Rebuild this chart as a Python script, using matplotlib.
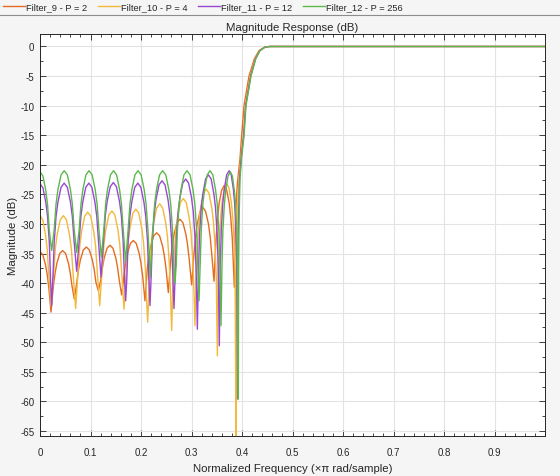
import matplotlib
matplotlib.use("Agg")
import matplotlib.pyplot as plt
from matplotlib.lines import Line2D
from matplotlib.ticker import MultipleLocator, FixedLocator

plt.rcParams['font.family'] = ['Liberation Sans', 'DejaVu Sans']
plt.rcParams['axes.unicode_minus'] = False

# ---------------- data ----------------
labels = ["Filter_9 - P = 2", "Filter_10 - P = 4", "Filter_11 - P = 12", "Filter_12 - P = 256"]
colors = ["#e56c22", "#f2b93a", "#9a47d6", "#5cb84c"]

freq_f9 = [0.0000,0.0055,0.0109,0.0142,0.0174,0.0218,
           0.0264,0.0299,0.0333,0.0391,0.0449,0.0507,0.0565,0.0599,0.0634,0.0680,
           0.0728,0.0763,0.0799,0.0858,0.0918,0.0978,0.1037,0.1073,0.1108,0.1155,
           0.1201,0.1236,0.1270,0.1328,0.1386,0.1444,0.1502,0.1536,0.1571,0.1617,
           0.1663,0.1698,0.1732,0.1790,0.1848,0.1906,0.1964,0.1998,0.2033,0.2079,
           0.2125,0.2160,0.2194,0.2252,0.2310,0.2368,0.2426,0.2460,0.2495,0.2541,
           0.2587,0.2622,0.2656,0.2714,0.2772,0.2830,0.2888,0.2922,0.2957,0.3003,
           0.3048,0.3081,0.3114,0.3170,0.3225,0.3280,0.3336,0.3369,0.3402,0.3446,
           0.3486,0.3516,0.3547,0.3597,0.3647,0.3697,0.3747,0.3778,0.3808,0.3848,
           0.3862,0.3881,0.3910,0.3960,0.3993,0.4040,0.4139,0.4244,0.4337,0.4455,0.4550,
           0.5,0.6,0.7,0.8,0.9,1.0]
mag_f9 = [-34.7,-35.2,-36.9,-38.5,-40.7,-44.9,
          -40.5,-38.3,-36.7,-35.0,-34.5,-35.0,-36.7,-38.3,-40.5,-42.7,
          -39.9,-37.7,-36.1,-34.4,-33.9,-34.4,-36.1,-37.7,-39.9,-41.3,
          -39.6,-37.4,-35.8,-34.1,-33.6,-34.1,-35.8,-37.4,-39.6,-42.0,
          -38.8,-36.6,-35.0,-33.3,-32.8,-33.3,-35.0,-36.6,-38.8,-43.0,
          -37.5,-35.3,-33.7,-32.0,-31.5,-32.0,-33.7,-35.3,-37.5,-41.6,
          -36.2,-33.5,-31.7,-29.8,-29.2,-29.8,-31.7,-33.5,-36.2,-40.3,
          -35.2,-32.1,-30.0,-27.9,-27.2,-27.9,-30.0,-32.1,-35.2,-39.7,
          -32.5,-29.0,-26.5,-24.3,-23.5,-24.3,-26.5,-29.0,-32.5,-40.7,
          -32.0,-27.0,-23.0,-19.0,-15.1,-10.0,-5.0,-2.1,-0.7,-0.1,0.0,
          0.0,0.0,0.0,0.0,0.0,0.0]

freq_f10 = [0.0000,0.0055,0.0109,0.0142,0.0174,0.0218,
            0.0267,0.0303,0.0340,0.0401,0.0462,0.0523,0.0584,0.0621,0.0657,0.0706,
            0.0754,0.0789,0.0825,0.0884,0.0944,0.1004,0.1063,0.1099,0.1134,0.1182,
            0.1231,0.1267,0.1303,0.1363,0.1423,0.1483,0.1543,0.1579,0.1615,0.1663,
            0.1710,0.1746,0.1781,0.1839,0.1898,0.1957,0.2015,0.2050,0.2086,0.2109,0.2132,
            0.2156,0.2180,0.2215,0.2251,0.2310,0.2370,0.2430,0.2489,0.2525,0.2560,0.2584,0.2607,
            0.2630,0.2653,0.2688,0.2722,0.2780,0.2838,0.2896,0.2954,0.2988,0.3023,0.3046,0.3069,
            0.3091,0.3114,0.3147,0.3180,0.3236,0.3291,0.3346,0.3402,0.3435,0.3468,0.3491,0.3512,
            0.3531,0.3549,0.3577,0.3605,0.3651,0.3697,0.3743,0.3789,0.3817,0.3845,0.3863,0.3881,
            0.3890,0.3900,0.3915,0.3940,0.3980,0.4026,0.4066,0.4162,0.4260,0.4348,0.4455,0.4550,
            0.5,0.6,0.7,0.8,0.9,1.0]
mag_f10 = [-28.6,-29.3,-31.8,-34.2,-38.6,-43.8,
           -38.6,-34.2,-31.8,-29.3,-28.6,-29.3,-31.8,-34.2,-38.6,-44.3,
           -38.0,-33.6,-31.2,-28.7,-28.0,-28.7,-31.2,-33.6,-38.0,-43.8,
           -37.8,-33.4,-31.0,-28.5,-27.8,-28.5,-31.0,-33.4,-37.8,-44.4,
           -37.5,-33.1,-30.7,-28.2,-27.5,-28.2,-30.7,-33.1,-37.5,-42.5,-46.6,
           -41.6,-36.6,-32.2,-29.8,-27.3,-26.6,-27.3,-29.8,-32.2,-36.6,-41.6,-48.0,
           -40.7,-35.7,-31.3,-28.9,-26.4,-25.7,-26.4,-28.9,-31.3,-35.7,-40.7,-47.2,
           -39.1,-34.1,-29.7,-27.3,-24.8,-24.1,-24.8,-27.3,-29.7,-34.1,-39.1,-52.3,
           -38.2,-33.2,-28.8,-26.4,-23.9,-23.2,-23.9,-26.4,-28.8,-33.2,-38.2,-66.5,
           -40.0,-32.0,-26.5,-22.4,-18.5,-15.1,-10.0,-5.0,-2.1,-0.7,-0.1,0.0,
           0.0,0.0,0.0,0.0,0.0,0.0]

freq_f11 = [0.0000,0.0058,0.0116,0.0150,0.0185,0.0208,0.0231,
            0.0256,0.0281,0.0318,0.0355,0.0417,0.0479,0.0541,0.0603,0.0640,0.0677,0.0726,
            0.0774,0.0810,0.0847,0.0907,0.0967,0.1027,0.1087,0.1124,0.1160,0.1208,
            0.1257,0.1293,0.1330,0.1391,0.1452,0.1513,0.1574,0.1611,0.1647,0.1672,0.1696,
            0.1720,0.1744,0.1780,0.1817,0.1877,0.1937,0.1997,0.2057,0.2094,0.2130,0.2154,0.2178,
            0.2202,0.2226,0.2261,0.2297,0.2356,0.2416,0.2476,0.2535,0.2571,0.2606,0.2630,0.2653,
            0.2677,0.2700,0.2734,0.2769,0.2827,0.2885,0.2943,0.3001,0.3036,0.3070,0.3093,0.3116,
            0.3138,0.3160,0.3192,0.3225,0.3279,0.3334,0.3389,0.3443,0.3476,0.3508,0.3530,0.3551,
            0.3570,0.3590,0.3619,0.3648,0.3696,0.3745,0.3787,0.3830,0.3855,0.3880,0.3897,0.3914,
            0.3921,0.3928,0.3937,0.3952,0.3988,0.4033,0.4073,0.4172,0.4267,0.4353,0.4455,0.4550,
            0.5,0.6,0.7,0.8,0.9,1.0]
mag_f11 = [-23.2,-23.9,-26.4,-28.8,-33.2,-39.2,-43.8,
           -39.1,-33.1,-28.7,-26.3,-23.8,-23.1,-23.8,-26.3,-28.7,-33.1,-38.0,
           -33.1,-28.7,-26.3,-23.8,-23.1,-23.8,-26.3,-28.7,-33.1,-39.0,
           -33.0,-28.6,-26.2,-23.7,-23.0,-23.7,-26.2,-28.6,-33.0,-39.0,-43.0,
           -39.1,-33.1,-28.7,-26.3,-23.8,-23.1,-23.8,-26.3,-28.7,-33.1,-39.1,-43.8,
           -38.7,-32.7,-28.3,-25.9,-23.4,-22.7,-23.4,-25.9,-28.3,-32.7,-38.7,-44.3,
           -38.4,-32.4,-28.0,-25.6,-23.1,-22.4,-23.1,-25.6,-28.0,-32.4,-38.4,-47.8,
           -37.7,-31.7,-27.3,-24.9,-22.4,-21.7,-22.4,-24.9,-27.3,-31.7,-37.7,-50.6,
           -37.0,-31.0,-26.6,-24.2,-21.7,-21.0,-21.7,-24.2,-26.6,-31.0,-37.0,-59.6,
           -38.0,-31.0,-27.0,-22.4,-18.5,-15.1,-10.0,-5.0,-2.1,-0.7,-0.1,0.0,
           0.0,0.0,0.0,0.0,0.0,0.0]

freq_f12 = [0.0000,0.0058,0.0116,0.0150,0.0185,0.0231,
            0.0281,0.0318,0.0355,0.0417,0.0479,0.0541,0.0603,0.0640,0.0677,0.0726,
            0.0775,0.0812,0.0849,0.0910,0.0971,0.1032,0.1093,0.1130,0.1167,0.1215,
            0.1264,0.1300,0.1336,0.1396,0.1456,0.1516,0.1576,0.1612,0.1648,0.1696,
            0.1745,0.1782,0.1819,0.1880,0.1941,0.2002,0.2063,0.2100,0.2137,0.2185,
            0.2234,0.2270,0.2307,0.2368,0.2429,0.2490,0.2551,0.2588,0.2624,0.2649,0.2673,
            0.2697,0.2721,0.2756,0.2792,0.2851,0.2911,0.2971,0.3030,0.3066,0.3101,0.3125,0.3149,
            0.3171,0.3193,0.3225,0.3258,0.3312,0.3367,0.3422,0.3476,0.3509,0.3541,0.3563,0.3584,
            0.3603,0.3621,0.3649,0.3677,0.3723,0.3770,0.3809,0.3849,0.3872,0.3896,0.3911,0.3927,
            0.3933,0.3940,0.3948,0.3960,0.3995,0.4040,0.4079,0.4178,0.4271,0.4356,0.4455,0.4550,
            0.5,0.6,0.7,0.8,0.9,1.0]
mag_f12 = [-21.2,-21.9,-24.4,-26.8,-31.2,-34.5,
           -31.0,-26.6,-24.2,-21.7,-21.0,-21.7,-24.2,-26.6,-31.0,-34.8,
           -31.0,-26.6,-24.2,-21.7,-21.0,-21.7,-24.2,-26.6,-31.0,-35.6,
           -31.0,-26.6,-24.2,-21.7,-21.0,-21.7,-24.2,-26.6,-31.0,-36.4,
           -31.0,-26.6,-24.2,-21.7,-21.0,-21.7,-24.2,-26.6,-31.0,-39.0,
           -31.0,-26.6,-24.2,-21.7,-21.0,-21.7,-24.2,-26.6,-31.0,-37.0,-40.0,
           -37.0,-31.0,-26.6,-24.2,-21.7,-21.0,-21.7,-24.2,-26.6,-31.0,-37.0,-43.0,
           -37.0,-31.0,-26.6,-24.2,-21.7,-21.0,-21.7,-24.2,-26.6,-31.0,-37.0,-47.2,
           -37.2,-31.2,-26.8,-24.4,-21.9,-21.2,-21.9,-24.4,-26.8,-31.2,-37.2,-59.6,
           -38.0,-31.0,-27.0,-22.4,-18.5,-15.1,-10.0,-5.0,-2.1,-0.7,-0.1,0.0,
           0.0,0.0,0.0,0.0,0.0,0.0]

xtick_vals = [0, 0.1, 0.2, 0.3, 0.4, 0.5, 0.6, 0.7, 0.8, 0.9]
xtick_labels = ["0", "0.1", "0.2", "0.3", "0.4", "0.5", "0.6", "0.7", "0.8", "0.9"]
ytick_vals = [0, -5, -10, -15, -20, -25, -30, -35, -40, -45, -50, -55, -60, -65]

# ---------------- figure ----------------
W, H = 560, 477
fig = plt.figure(figsize=(W / 100, H / 100), dpi=100, facecolor="#f5f5f5")
ax = fig.add_axes([40 / W, 1 - 437 / H, 505 / W, 402 / H])
ax.set_facecolor("white")

series = [(freq_f9, mag_f9), (freq_f10, mag_f10), (freq_f11, mag_f11), (freq_f12, mag_f12)]
handles = []
for (fx, my), c, lab in zip(series, colors, labels):
    h, = ax.plot(fx, my, color=c, lw=1.0, label=lab, solid_joinstyle="round")
    handles.append(h)

ax.set_xlim(0, 1)
ax.set_ylim(-65.85, 2.11)
ax.xaxis.set_major_locator(FixedLocator(xtick_vals))
ax.set_xticklabels(xtick_labels)
ax.yaxis.set_major_locator(FixedLocator(ytick_vals))
ax.set_yticklabels([str(v) for v in ytick_vals])
ax.xaxis.set_minor_locator(MultipleLocator(0.02))
ax.yaxis.set_minor_locator(MultipleLocator(2.5))

tc = "#262626"
ax.tick_params(which="both", direction="in", top=True, right=True, colors=tc,
               labelsize=7, width=0.6)
ax.tick_params(which="major", length=4)
ax.tick_params(which="minor", length=2)
ax.tick_params(axis="x", which="major", pad=8)
ax.tick_params(axis="y", which="major", pad=4)
ax.grid(True, which="major", color="#e3e3e3", lw=0.8)
ax.set_axisbelow(True)
for s in ax.spines.values():
    s.set_color(tc)
    s.set_linewidth(0.7)

ax.set_title("Magnitude Response (dB)", fontsize=8.2, color=tc, pad=3)
ax.set_xlabel("Normalized Frequency (\u00d7\u03c0 rad/sample)", fontsize=8.2, color=tc, labelpad=4)
ax.set_ylabel("Magnitude (dB)", fontsize=8.2, color=tc, labelpad=1.5)

leg = fig.legend(handles, labels, loc="center left", bbox_to_anchor=(3 / W, 1 - 8 / H),
                 ncol=4, frameon=False, fontsize=6.7, handlelength=2.36, handletextpad=0.1,
                 columnspacing=1.17, borderaxespad=0, borderpad=0)
for t in leg.get_texts():
    t.set_color(tc)

fig.add_artist(Line2D([0, 1], [1 - 16 / H, 1 - 16 / H], transform=fig.transFigure,
                      color="#8c8c8c", lw=0.8))

fig.savefig("out.png", dpi=100, facecolor=fig.get_facecolor())
